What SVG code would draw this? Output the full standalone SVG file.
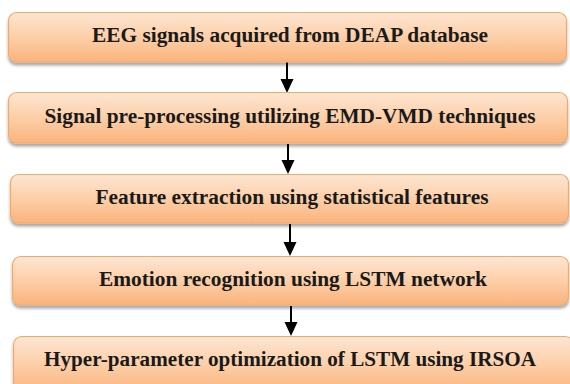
<svg xmlns="http://www.w3.org/2000/svg" width="570" height="384" viewBox="0 0 570 384">
<defs>
<linearGradient id="g" x1="0" y1="0" x2="0" y2="1">
<stop offset="0" stop-color="#fde6d3"/>
<stop offset="0.5" stop-color="#fccfa8"/>
<stop offset="1" stop-color="#fab37c"/>
</linearGradient>
<filter id="sh" x="-5%" y="-20%" width="110%" height="150%">
<feGaussianBlur in="SourceAlpha" stdDeviation="1.5"/>
<feOffset dx="0" dy="3" result="b"/>
<feComponentTransfer><feFuncA type="linear" slope="0.35"/></feComponentTransfer>
<feMerge><feMergeNode/><feMergeNode in="SourceGraphic"/></feMerge>
</filter>
</defs>
<style>
.box{fill:url(#g);stroke:#f5a968;stroke-width:1.2;filter:url(#sh)}
text{font-family:'Liberation Serif','DejaVu Serif',serif;font-weight:700;font-size:20px;fill:#1a1a1a;text-anchor:middle}
.c{stroke:#000;stroke-width:2;fill:none}
</style>
<g id="connectors">
<path class="c" d="M287,62 V80"/>
<path d="M280.5,79 L293.5,79 L287,93 Z"/>
<path class="c" d="M288,144 V161"/>
<path d="M281.5,160 L294.5,160 L288,174 Z"/>
<path class="c" d="M290,224 V243"/>
<path d="M283.5,242 L296.5,242 L290,256 Z"/>
<path class="c" d="M291,306 V323"/>
<path d="M284.5,322 L297.5,322 L291,336 Z"/>
</g>
<g id="n1"><rect class="box" x="8.5" y="12.5" width="558" height="49.5" rx="8"/><text x="290" y="42" font-family="Liberation Serif, serif" textLength="396" lengthAdjust="spacingAndGlyphs">EEG signals acquired from DEAP database</text></g>
<g id="n2"><rect class="box" x="8.5" y="92.5" width="559" height="50.5" rx="8"/><text x="290" y="123" font-family="Liberation Serif, serif" textLength="491" lengthAdjust="spacingAndGlyphs">Signal pre-processing utilizing EMD-VMD techniques</text></g>
<g id="n3"><rect class="box" x="10.5" y="174.5" width="558" height="48.5" rx="8"/><text x="292" y="204" font-family="Liberation Serif, serif" textLength="393" lengthAdjust="spacingAndGlyphs">Feature extraction using statistical features</text></g>
<g id="n4"><rect class="box" x="12.5" y="256.5" width="556" height="48.5" rx="8"/><text x="293" y="286" font-family="Liberation Serif, serif" textLength="388" lengthAdjust="spacingAndGlyphs">Emotion recognition using LSTM network</text></g>
<g id="n5"><rect class="box" x="13.5" y="336.5" width="560" height="56" rx="8"/><text x="290" y="366" font-family="Liberation Serif, serif" textLength="492" lengthAdjust="spacingAndGlyphs">Hyper-parameter optimization of LSTM using IRSOA</text></g>
</svg>
